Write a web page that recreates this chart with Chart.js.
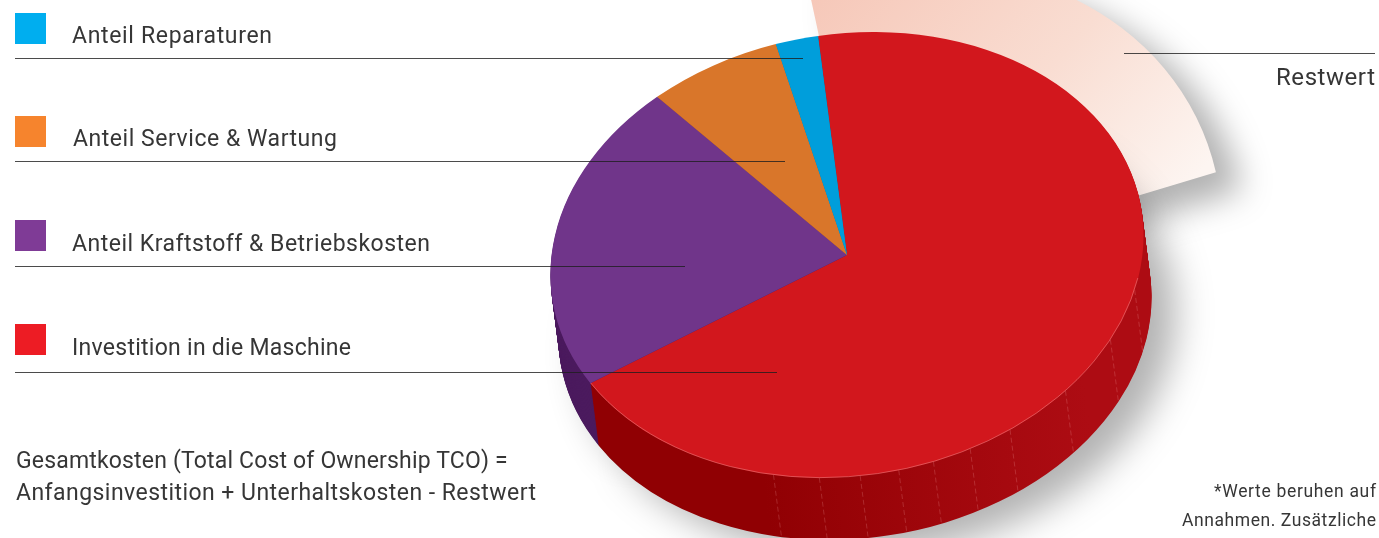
<!DOCTYPE html>
<html><head><meta charset="utf-8">
<script src="https://cdn.jsdelivr.net/npm/chart.js@4/dist/chart.umd.min.js"></script>
<style>
html,body{margin:0;padding:0;background:#fff;overflow:hidden}
#stage{position:relative;width:1379px;height:538px;overflow:hidden}
canvas{position:absolute;left:0;top:0}
.t{position:absolute;white-space:nowrap;line-height:0;color:#363636;font-family:Roboto,sans-serif;font-weight:400}
.l{position:absolute;height:1px;background:rgba(30,30,30,.8)}
.s{position:absolute;width:31px;height:31px}
</style></head><body>
<div id="stage">
<canvas id="back" width="1379" height="538"></canvas>
<canvas id="main" width="1379" height="538"></canvas>
</div>
<script>
const categories = ["Investition in die Maschine","Anteil Kraftstoff & Betriebskosten","Anteil Service & Wartung","Anteil Reparaturen"];
const shares = [68.2, 22.3, 7.2, 2.3];
const topColors = ["#d2171d","#70358a","#d9762a","#009edb"];
const wallColors = ["#900003","#4b1a5e","#a85a1c","#007ba8"];
const legendColors = ["#ed1c24","#7f3b96","#f6842d","#00aeef"];
const restLabels = ["Restwert",""];
const restShares = [24.85, 75.15];
const facetAngles = [110.3,123.6,138.8,152.9,161.7,169.3,176.2,183.7,191.6,200.6];

const pieGeom = {cx:847, cy:255, rx:298, ry:221, tilt:-8.4, dx:8, dy:62};
const restGeom = {cx:871, cy:276, rx:362, ry:298, tilt:-25.1};

function geomMatrix(g,r,ox,oy){
  return new DOMMatrix().translate(g.cx+(ox||0),g.cy+(oy||0)).rotate(g.tilt).scale(g.rx/r,g.ry/r).translate(-g.cx,-g.cy);
}
function toLocal(m,X,Y){const p=m.inverse().transformPoint(new DOMPoint(X,Y));return [p.x,p.y];}

const restPlugin = {
  id:'rest',
  beforeDatasetsDraw(chart){
    const c=chart.ctx, a=chart.getDatasetMeta(0).data[0];
    const m=geomMatrix(restGeom,a.outerRadius);
    const p1=toLocal(m,830,-20), p2=toLocal(m,1170,205);
    c.save();
    c.setTransform(m);
    const g=c.createLinearGradient(p1[0],p1[1],p2[0],p2[1]);
    g.addColorStop(0,'#f6c8b9'); g.addColorStop(.55,'#f9ddd2'); g.addColorStop(1,'#fdf5f1');
    a.options=Object.create(a.options,{backgroundColor:{value:g}});
    c.shadowColor='rgba(0,0,0,.3)'; c.shadowBlur=32; c.shadowOffsetX=26; c.shadowOffsetY=18;
  },
  afterDatasetsDraw(chart){ chart.ctx.restore(); }
};

const piePlugin = {
  id:'pie3d',
  beforeDatasetsDraw(chart){
    const c=chart.ctx, arcs=chart.getDatasetMeta(0).data, r=arcs[0].outerRadius;
    const g0=pieGeom, m0=geomMatrix(g0,r);
    c.save();
    const p1=toLocal(m0,770,400), p2=toLocal(m0,1080,400);
    c.setTransform(m0);
    const g=c.createLinearGradient(p1[0],p1[1],p2[0],p2[1]);
    g.addColorStop(0,'#900003'); g.addColorStop(1,'#ad0c13');
    const base=arcs.map(a=>a.options);
    for(let d=g0.dy;d>=1;d--){
      c.setTransform(geomMatrix(g0,r,g0.dx*d/g0.dy,d));
      if(d===g0.dy){c.shadowColor='rgba(0,0,0,.3)';c.shadowBlur=36;c.shadowOffsetX=24;c.shadowOffsetY=16;}
      else{c.shadowColor='transparent';c.shadowBlur=0;c.shadowOffsetX=0;c.shadowOffsetY=0;}
      arcs.forEach((a,i)=>{
        a.options=Object.create(base[i],{backgroundColor:{value:i===0?g:wallColors[i]}});
        a.draw(c);
      });
    }
    arcs.forEach((a,i)=>a.options=base[i]);
    c.restore();
    // facet seams on the wall, placed from the pie's own centre and radius
    c.save();
    c.strokeStyle='rgba(255,190,190,.2)'; c.lineWidth=1; c.setLineDash([5,3]);
    facetAngles.forEach(t=>{
      const th=t*Math.PI/180;
      const p=m0.transformPoint(new DOMPoint(g0.cx+r*Math.sin(th),g0.cy-r*Math.cos(th)));
      c.beginPath(); c.moveTo(p.x,p.y); c.lineTo(p.x+g0.dx,p.y+g0.dy); c.stroke();
    });
    c.restore();
    c.save();
    c.setTransform(m0);
  },
  afterDatasetsDraw(chart){
    const c=chart.ctx, a=chart.getDatasetMeta(0).data[0];
    c.restore();
    // faint light rim where the red top meets its wall (front part only)
    const r=a.outerRadius;
    c.save();
    c.setTransform(geomMatrix(pieGeom,r));
    c.beginPath();
    c.arc(pieGeom.cx,pieGeom.cy,r-.3,0.3,a.endAngle);
    c.restore();
    c.save();
    c.strokeStyle='rgba(255,190,190,.35)'; c.lineWidth=1; c.stroke();
    c.restore();
  }
};

const baseOpts = (rot,padding)=>({
  responsive:false, animation:false, devicePixelRatio:1, rotation:rot, cutout:0,
  layout:{padding}, plugins:{legend:{display:false},tooltip:{enabled:false}},
  events:[]
});

new Chart(document.getElementById('back'),{
  type:'pie',
  data:{labels:restLabels,datasets:[{data:restShares,backgroundColor:['#f9ddd2','rgba(0,0,0,0)'],borderWidth:0,clip:false}]},
  options:baseOpts(10.65,{left:363,top:14,right:0,bottom:0}),
  plugins:[restPlugin]
});
new Chart(document.getElementById('main'),{
  type:'pie',
  data:{labels:categories,datasets:[{data:shares,backgroundColor:topColors,borderWidth:0,clip:false}]},
  options:baseOpts(0.65,{left:315,top:0,right:0,bottom:28}),
  plugins:[piePlugin]
});

const stage=document.getElementById('stage');
const mc=document.createElement('canvas').getContext('2d');
function text(str,left,right,base,size){
  mc.font='400 '+size+'px Roboto';
  const m=mc.measureText(str);
  const ls=((right-left)-m.width)/(str.length-1);
  const e=document.createElement('div'); e.className='t'; e.textContent=str;
  e.style.left=left+'px'; e.style.fontSize=size+'px'; e.style.letterSpacing=ls+'px';
  e.style.top=(base-(m.fontBoundingBoxAscent-m.fontBoundingBoxDescent)/2)+'px';
  stage.appendChild(e);
}
function line(x1,x2,y){const e=document.createElement('div');e.className='l';e.style.left=x1+'px';e.style.width=(x2-x1)+'px';e.style.top=y+'px';stage.appendChild(e);}
function swatch(y,col){const e=document.createElement('div');e.className='s';e.style.left='15px';e.style.top=y+'px';e.style.background=col;stage.appendChild(e);}
swatch(13,legendColors[3]); swatch(116,legendColors[2]); swatch(220,legendColors[1]); swatch(324,legendColors[0]);
line(15,803,58); line(15,785,161); line(15,685,266); line(15,777,372); line(1124,1375,53);
text(categories[3],72,272,43,23);
text(categories[2],73,337,146,23);
text(categories[1],72,430,251,23);
text(categories[0],72,351,355,23);
text("Gesamtkosten (Total Cost of Ownership TCO) =",16,508,468,23);
text("Anfangsinvestition + Unterhaltskosten - Restwert",16,536,500,23);
text(restLabels[0],1276,1375,85,24);
text("*Werte beruhen auf",1214,1376,497,17.5);
text("Annahmen. Zusätzliche",1182,1376,526,17.5);
</script>
</body></html>
